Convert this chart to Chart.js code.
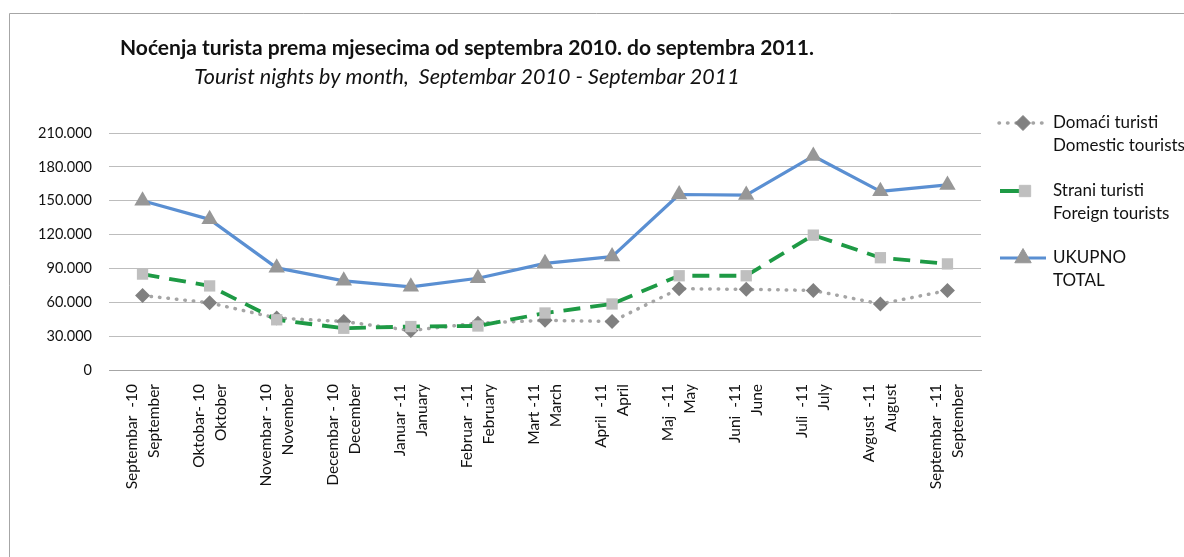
<!DOCTYPE html>
<html>
<head>
<meta charset="utf-8">
<script src="https://cdn.jsdelivr.net/npm/chart.js@4.4.1/dist/chart.umd.min.js"></script>
<style>
html,body{margin:0;padding:0;background:#fff;}
#wrap{position:relative;width:1184px;height:557px;}
</style>
</head>
<body>
<div id="wrap"><canvas id="c" width="1184" height="557"></canvas></div>
<script>
const months = [
  ["Septembar  -10","September"],
  ["Oktobar- 10","Oktober"],
  ["Novembar - 10","November"],
  ["Decembar - 10","December"],
  ["Januar -11","January"],
  ["Februar  -11","February"],
  ["Mart -11","March"],
  ["April  -11","April"],
  ["Maj  -11","May"],
  ["Juni  -11","June"],
  ["Juli  -11","July"],
  ["Avgust  -11","August"],
  ["Septembar  -11","September"]
];
const domestic = [66000, 59500, 46000, 43000, 35000, 41500, 44000, 43000, 72000, 71500, 70500, 58500, 70500];
const foreign  = [85000, 74500, 44500, 37000, 38500, 39000, 50500, 58500, 83500, 83500, 119500, 99500, 94000];
const total    = [150000, 133500, 90500, 79000, 73700, 81300, 94500, 100500, 155500, 155000, 189600, 158300, 164000];
const yTicks   = [0, 30000, 60000, 90000, 120000, 150000, 180000, 210000];
const seriesNames = [["Domaći turisti","Domestic tourists"],["Strani turisti","Foreign tourists"],["UKUPNO","TOTAL"]];
const titleMain = "Noćenja turista prema mjesecima od septembra 2010. do septembra 2011.";
const titleSub  = "Tourist nights by month,  Septembar 2010 - Septembar 2011";

const FONT = "Lato, 'Open Sans', sans-serif";
const fmt = v => v === 0 ? "0" : v.toLocaleString('de-DE');

const styles = [
  {color:'#a5a5a5', width:3.5, dash:[0.5,8], cap:'round', pStyle:'rectRot', pColor:'#808080', pRad:7.5},
  {color:'#1e9a45', width:3.8, dash:[17,10], cap:'butt', pStyle:'rect', pColor:'#bfbfbf', pRad:8},
  {color:'#5a8fd2', width:3.2, dash:[], cap:'butt', pStyle:'triangle', pColor:'#979797', pRad:9.5}
];
const data = [domestic, foreign, total];

const decor = {
  id:'decor',
  afterDraw(chart){
    const ctx = chart.ctx;
    ctx.save();
    ctx.strokeStyle = '#a6a6a6'; ctx.lineWidth = 1;
    ctx.beginPath(); ctx.moveTo(9.5, 557); ctx.lineTo(9.5, 13.5); ctx.lineTo(1184, 13.5); ctx.stroke();
    ctx.fillStyle = '#111';
    ctx.textAlign = 'center'; ctx.textBaseline = 'middle';
    ctx.font = "bold 21px " + FONT;
    ctx.fillText(titleMain, 467, 48);
    ctx.font = "italic 21.5px " + FONT;
    ctx.fillText(titleSub, 467, 77);
    ctx.restore();
    const ys = [123, 191, 258];
    styles.forEach((s, i) => {
      const y = ys[i];
      ctx.save();
      ctx.strokeStyle = s.color; ctx.lineWidth = s.width; ctx.lineCap = s.cap;
      ctx.setLineDash(i === 1 ? [20, 7, 0.1, 100] : s.dash);
      ctx.beginPath(); ctx.moveTo(i===0?999:1000, y); ctx.lineTo(i===1?1047:1046, y); ctx.stroke();
      ctx.restore();
      ctx.save();
      ctx.fillStyle = s.pColor; ctx.strokeStyle = s.pColor;
      Chart.helpers.drawPoint(ctx, {pointStyle:s.pStyle, radius:s.pRad, borderWidth:0.01, rotation:0}, i===1?1025:1023, y);
      ctx.fillStyle = '#111';
      ctx.textAlign = 'left'; ctx.textBaseline = 'middle'; ctx.font = "17px " + FONT;
      ctx.fillText(seriesNames[i][0], 1053, y);
      ctx.fillText(seriesNames[i][1], 1053, y + 23);
      ctx.restore();
    });
  }
};

new Chart(document.getElementById('c'), {
  type: 'line',
  data: {
    labels: months,
    datasets: data.map((d, i) => ({
      label: seriesNames[i].join(' '),
      data: d,
      borderColor: styles[i].color,
      borderWidth: styles[i].width,
      borderDash: styles[i].dash,
      borderCapStyle: styles[i].cap,
      borderJoinStyle: 'round',
      tension: 0,
      fill: false,
      pointStyle: styles[i].pStyle,
      pointRadius: styles[i].pRad,
      pointBackgroundColor: styles[i].pColor,
      pointBorderColor: styles[i].pColor,
      pointBorderWidth: 0,
      order: 3 - i
    }))
  },
  options: {
    responsive: false,
    animation: false,
    devicePixelRatio: 1,
    layout: { padding: { top: 133, right: 203, bottom: 0, left: 20 } },
    plugins: { legend: { display: false }, title: { display: false }, tooltip: { enabled: false } },
    scales: {
      x: {
        type: 'category',
        offset: true,
        grid: { display: false, drawTicks: false },
        border: { display: true, color: '#a6a6a6', width: 1 },
        ticks: {
          minRotation: 90, maxRotation: 90, autoSkip: false,
          color: '#111', padding: 14, labelOffset: -11,
          font: { family: FONT, size: 15.5, lineHeight: 1.42 }
        },
        afterFit(axis){ axis.height = 557 - 370; }
      },
      y: {
        min: 0, max: 210000,
        afterBuildTicks(axis){ axis.ticks = yTicks.map(v => ({value: v})); },
        grid: { color: '#bdbdbd', lineWidth: 1, drawTicks: false },
        border: { display: false },
        ticks: {
          color: '#111', padding: 17,
          font: { family: FONT, size: 14.5 },
          callback: v => fmt(v)
        },
        afterFit(axis){ axis.width = 109 - 20; }
      }
    }
  },
  plugins: [decor]
});
</script>
</body>
</html>
